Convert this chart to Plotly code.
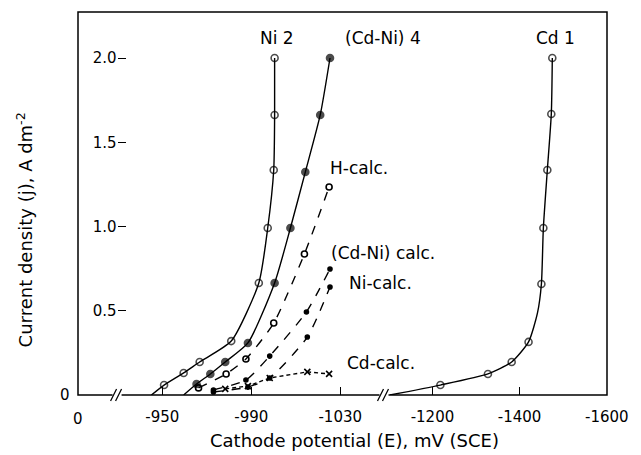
import plotly.graph_objects as go

# ---- data (E in mV vs SCE, j in A dm^-2) ----
ni2_E = [-945.1, -950.8, -959.6, -966.8, -981.0, -993.4, -997.4, -1000.1, -1000.5, -1000.5]
ni2_j = [0.0, 0.059, 0.131, 0.196, 0.320, 0.665, 0.991, 1.335, 1.662, 2.0]
ni2_mark = [0, 7, 7, 7, 7, 7, 7, 7, 7, 7]

cdni4_E = [-959.6, -965.4, -971.6, -978.3, -988.5, -1000.5, -1007.6, -1014.3, -1021.0, -1025.4]
cdni4_j = [0.0, 0.065, 0.125, 0.196, 0.309, 0.665, 0.991, 1.323, 1.662, 2.0]
cdni4_mark = [0, 7, 7, 7, 7, 7, 7, 7, 7, 7]

hcalc_E = [-966.3, -978.7, -987.6, -1000.1, -1013.9, -1025.0]
hcalc_j = [0.042, 0.125, 0.214, 0.427, 0.837, 1.234]

cdnicalc_E = [-973.0, -987.6, -998.3, -1014.8, -1025.4]
cdnicalc_j = [0.030, 0.089, 0.231, 0.493, 0.748]

nicalc_E = [-973.0, -988.5, -998.3, -1015.2, -1025.4]
nicalc_j = [0.018, 0.047, 0.101, 0.344, 0.641]

cdcalc_E = [-978.3, -988.5, -998.3, -1015.2, -1025.0]
cdcalc_j = [0.036, 0.053, 0.101, 0.137, 0.125]

cd1_E = [-1102.3, -1218.2, -1327.3, -1381.8, -1420.5, -1441.0, -1450.0, -1454.5, -1463.6, -1472.7, -1475.0]
cd1_j = [0.0, 0.059, 0.125, 0.196, 0.315, 0.487, 0.659, 0.991, 1.335, 1.668, 2.0]
cd1_mark = [0, 7, 7, 7, 7, 0, 7, 7, 7, 7, 7]

y_ticks = [0, 0.5, 1.0, 1.5, 2.0]
y_ticktext = ["", "0.5", "1.0", "1.5", "2.0"]
x1_ticks = [0]
x2_ticks = [-950, -990, -1030]
x2_ticktext = ["-950", "-990", "-1030"]
x3_ticks = [-1200, -1400, -1600]
x3_ticktext = ["-1200", "-1400", "-1600"]

FONT = "DejaVu Sans"
fig = go.Figure()

def add(E, j, xa, dash, symbol, size, color_fill="black", lw=1.4, shape="spline"):
    fig.add_trace(go.Scatter(
        x=E, y=j, xaxis=xa, yaxis="y", mode="lines+markers",
        line=dict(color="black", width=lw, dash=dash, shape=shape, smoothing=0.6),
        marker=dict(symbol=symbol, size=size, color=color_fill,
                    line=dict(color="black", width=1.6)),
        showlegend=False, hoverinfo="skip", cliponaxis=False))

add(ni2_E, ni2_j, "x2", "solid", "circle-open", ni2_mark)
add(cdni4_E, cdni4_j, "x2", "solid", "circle", cdni4_mark)
add(hcalc_E, hcalc_j, "x2", "dash", "circle-open", 6)
add(cdnicalc_E, cdnicalc_j, "x2", "dash", "circle", 4)
add(nicalc_E, nicalc_j, "x2", "dash", "circle", 4)
add(cdcalc_E, cdcalc_j, "x2", "4px,3px", "x-thin-open", 6, shape="linear")
add(cd1_E, cd1_j, "x3", "solid", "circle-open", cd1_mark)

tickfont = dict(family=FONT, size=15, color="black")
common_x = dict(showgrid=False, zeroline=False, showline=False, ticks="inside",
                ticklen=8, tickwidth=1.2, tickcolor="black", tickfont=tickfont,
                anchor="y", ticklabelstandoff=11)

fig.update_layout(
    width=641, height=455,
    margin=dict(l=78, r=28, t=12, b=60),
    paper_bgcolor="white", plot_bgcolor="white",
    xaxis=dict(domain=[0, 0.0748], range=[0, -50], tickmode="array",
               tickvals=x1_ticks, ticktext=[""], **common_x),
    xaxis2=dict(domain=[0.0748, 0.5794], range=[-929.9, -1049.9], tickmode="array",
                tickvals=x2_ticks, ticktext=x2_ticktext, **common_x),
    xaxis3=dict(domain=[0.5794, 1.0], range=[-1090, -1600.5], tickmode="array",
                tickvals=x3_ticks, ticktext=x3_ticktext, **common_x),
    yaxis=dict(range=[0, 2.273], tickmode="array", tickvals=y_ticks, ticktext=y_ticktext,
               showgrid=False, zeroline=False, showline=False, ticks="inside",
               ticklen=8, tickwidth=1.2, tickcolor="black", tickfont=tickfont,
               anchor="x"),
    font=dict(family=FONT, color="black"),
)

# frame
fig.add_shape(type="rect", xref="paper", yref="paper", x0=0, x1=1, y0=0, y1=1,
              line=dict(color="black", width=1.5), layer="above")

# axis break marks
for bx in [0.0748, 0.5794]:
    fig.add_shape(type="rect", xref="paper", yref="paper", xsizemode="pixel",
                  ysizemode="pixel", xanchor=bx, yanchor=0, x0=-5, x1=4, y0=-3, y1=3,
                  fillcolor="white", line=dict(width=0), layer="above")
    for off in (-4, 1):
        fig.add_shape(type="line", xref="paper", yref="paper", xsizemode="pixel",
                      ysizemode="pixel", xanchor=bx, yanchor=0,
                      x0=off - 3, x1=off + 3, y0=-6, y1=6,
                      line=dict(color="black", width=1.3), layer="above")

# "0" labels at the origin corner
fig.add_annotation(text="0", x=0, y=0, xref="paper", yref="paper", showarrow=False,
                   xanchor="right", yanchor="middle", xshift=-6,
                   font=dict(family=FONT, size=15, color="black"))
fig.add_annotation(text="0", x=0, y=0, xref="paper", yref="paper", showarrow=False,
                   xanchor="center", yanchor="top", yshift=-13,
                   font=dict(family=FONT, size=15, color="black"))

labels = [
    ("Ni 2", 0.3757, 0.932),
    ("(Cd-Ni) 4", 0.5757, 0.932),
    ("H-calc.", 0.531, 0.593),
    ("(Cd-Ni) calc.", 0.577, 0.371),
    ("Ni-calc.", 0.572, 0.292),
    ("Cd-calc.", 0.572, 0.0836),
    ("Cd 1", 0.903, 0.932),
]
for t, x, y in labels:
    fig.add_annotation(text=t, x=x, y=y, xref="paper", yref="paper", showarrow=False,
                       font=dict(family=FONT, size=17, color="black"),
                       xanchor="center", yanchor="middle")

fig.add_annotation(text="Cathode potential (E), mV (SCE)", x=0.523, y=-0.1175,
                   xref="paper", yref="paper", showarrow=False,
                   font=dict(family=FONT, size=18, color="black"),
                   xanchor="center", yanchor="middle")
fig.add_annotation(text="Current density (j), A dm<sup>-2</sup>", x=-0.1, y=0.43,
                   xref="paper", yref="paper", showarrow=False, textangle=-90,
                   font=dict(family=FONT, size=18, color="black"),
                   xanchor="center", yanchor="middle")

fig.write_html("out.html")
